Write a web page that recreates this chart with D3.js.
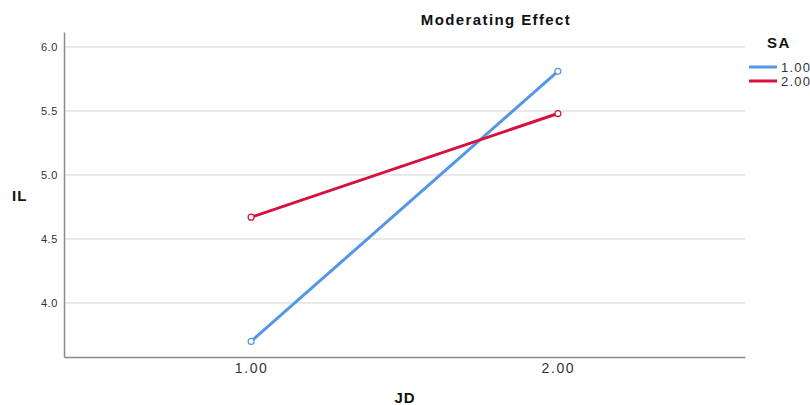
<!DOCTYPE html>
<html><head><meta charset="utf-8">
<script src="https://cdn.jsdelivr.net/npm/d3@7"></script>
<style>body{margin:0;background:#fff}svg{display:block}text{font-family:Arial,"Liberation Sans",sans-serif}</style>
</head><body><svg id="c" width="810" height="405"></svg>
<script>
const xValues = [1, 2];
const xTickLabels = ["1.00", "2.00"];
const yTicks = [4.0, 4.5, 5.0, 5.5, 6.0];
const seriesNames = ["1.00", "2.00"];
const sa1 = [3.70, 5.81];
const sa2 = [4.67, 5.48];
const colors = ["#5597e7", "#d6113d"];
const series = [sa1, sa2];

(function () {
const svg = d3.select("#c");
const mLeft = 64, mRight = 745, mTop = 32, mBottom = 357;
const x = d3.scaleLinear().domain([0.39, 2.61]).range([mLeft, mRight]);
const y = d3.scaleLinear().domain([3.578, 6.117]).range([mBottom, mTop]);

// gridlines
svg.append("g").selectAll("line").data(yTicks).join("line")
  .attr("x1", mLeft).attr("x2", mRight)
  .attr("y1", d => y(d)).attr("y2", d => y(d))
  .attr("stroke", "#d4d4d4").attr("stroke-width", 1);

// y axis
const ya = svg.append("g").attr("transform", `translate(${mLeft},0)`)
  .call(d3.axisLeft(y).tickValues(yTicks).tickFormat(d3.format(".1f")).tickSize(0).tickPadding(6));
ya.select(".domain").attr("stroke", "#8a8a8a").attr("stroke-width", 1.5);
ya.selectAll("text").attr("font-size", 11).attr("letter-spacing", 0.6).attr("fill", "#333");

// x axis
const xa = svg.append("g").attr("transform", `translate(0,${mBottom})`)
  .call(d3.axisBottom(x).tickValues(xValues).tickFormat((d, i) => xTickLabels[i]).tickSize(0).tickPadding(6));
xa.select(".domain").attr("stroke", "#8a8a8a").attr("stroke-width", 1.5);
xa.selectAll("text").attr("font-size", 14).attr("letter-spacing", 1.6).attr("fill", "#333");

// lines
const line = d3.line().x((d, i) => x(xValues[i])).y(d => y(d));
series.forEach((s, k) => {
  svg.append("path").datum(s).attr("d", line).attr("fill", "none")
    .attr("stroke", colors[k]).attr("stroke-width", 3);
  svg.append("g").selectAll("circle").data(s).join("circle")
    .attr("cx", (d, i) => x(xValues[i])).attr("cy", d => y(d)).attr("r", 3)
    .attr("fill", "#fff").attr("stroke", colors[k]).attr("stroke-width", 1.2);
});

// titles
svg.append("text").attr("x", 496).attr("y", 25).attr("text-anchor", "middle")
  .attr("font-size", 15).attr("letter-spacing", 1.4).attr("font-weight", "bold").attr("fill", "#111").text("Moderating Effect");
svg.append("text").attr("x", 12).attr("y", 201).attr("font-size", 15).attr("letter-spacing", 1).attr("font-weight", "bold").attr("fill", "#111").text("IL");
svg.append("text").attr("x", 405).attr("y", 403).attr("text-anchor", "middle")
  .attr("font-size", 15).attr("letter-spacing", 1).attr("font-weight", "bold").attr("fill", "#111").text("JD");

// legend
svg.append("text").attr("x", 767).attr("y", 48).attr("font-size", 15).attr("letter-spacing", 1.5).attr("font-weight", "bold").attr("fill", "#111").text("SA");
seriesNames.forEach((n, k) => {
  const yy = 67 + k * 14;
  svg.append("line").attr("x1", 749).attr("x2", 777).attr("y1", yy).attr("y2", yy)
    .attr("stroke", colors[k]).attr("stroke-width", 3);
  svg.append("text").attr("x", 781).attr("y", yy + 4.5).attr("font-size", 13).attr("letter-spacing", 1.2).attr("fill", "#333").text(n);
});
})();
</script></body></html>
